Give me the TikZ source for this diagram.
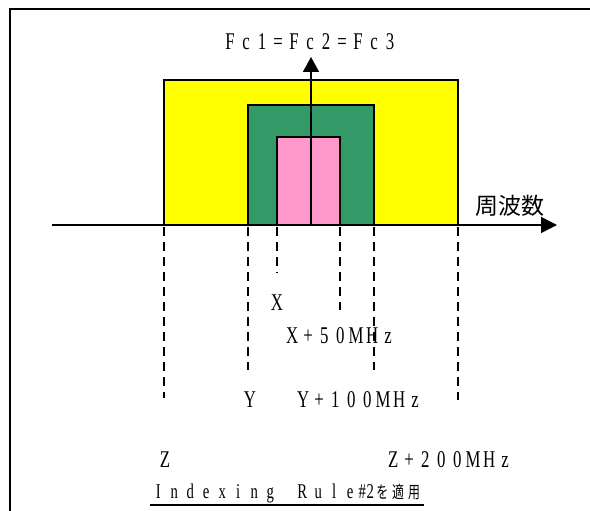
\documentclass[tikz,border=0pt]{standalone}
\usepackage{graphicx}
\usepackage{fontspec}
\setmainfont{Liberation Serif}
\newfontfamily\cjk{Noto Sans CJK JP}
\usetikzlibrary{arrows.meta}
\makeatletter
\newcommand\fwcell[1]{\makebox[16pt]{\scalebox{0.7}[1]{#1}}}
\newcommand\fwhalf[1]{\makebox[8pt]{\scalebox{0.7}[1]{#1}}}
\newcommand\fwseq[1]{\@tfor\fw@ch:=#1\do{\fwcell{\fw@ch}}}
\makeatother
\definecolor{band1}{RGB}{255,255,0}
\definecolor{band2}{RGB}{51,153,102}
\definecolor{band3}{RGB}{255,153,204}
\begin{document}
\begin{tikzpicture}[x=1pt,y=-1pt,
  box/.style={draw=black,line width=1.5pt},
  guide/.style={draw=black,line width=1.5pt,dash pattern=on 9pt off 6pt},
  axisline/.style={draw=black,line width=1.5pt},
  lbl/.style={inner sep=0pt,font=\fontsize{24}{26}\selectfont},
  ]
\useasboundingbox (0,0) rectangle (590,511);
% frame
\coordinate (fbl) at (10,511);
\coordinate (ftl) at (10,9);
\coordinate (ftr) at (590,9);
\draw[line width=1.6pt] (fbl) -- (ftl) -- (ftr);
% bands
\draw[box,fill=band1] (164,80) rectangle (458,225);
\draw[box,fill=band2] (248,105) rectangle (374,225);
\draw[box,fill=band3] (277,137) rectangle (340,225);
% axes
\coordinate (a0) at (52,225);
\coordinate (a1) at (557,225);
\draw[axisline,-{Triangle[length=16pt,width=16pt]}] (a0) -- (a1);
\coordinate (c0) at (311,225);
\coordinate (c1) at (311,57);
\draw[axisline,-{Triangle[length=15pt,width=16pt]}] (c0) -- (c1);
% guides
\coordinate (g1a) at (164,227); \coordinate (g1b) at (164,398);
\coordinate (g2a) at (248,227); \coordinate (g2b) at (248,370);
\coordinate (g3a) at (277,227); \coordinate (g3b) at (277,273);
\coordinate (g4a) at (340,227); \coordinate (g4b) at (340,310);
\coordinate (g5a) at (374,227); \coordinate (g5b) at (374,370);
\coordinate (g6a) at (458,227); \coordinate (g6b) at (458,400);
\draw[guide] (g1a) -- (g1b);
\draw[guide] (g2a) -- (g2b);
\draw[guide] (g3a) -- (g3b);
\draw[guide] (g4a) -- (g4b);
\draw[guide] (g5a) -- (g5b);
\draw[guide] (g6a) -- (g6b);
% labels
\node[lbl] (fc) at (310,42) {\fwseq{Fc1=Fc2=Fc3}};
\node[inner sep=0pt,font=\cjk\fontsize{23}{25}\selectfont] (freq) at (510,206) {周波数};
\node[lbl] (x) at (277,303) {\fwcell{X}};
\node[lbl,anchor=west] (x50) at (284,336) {\fwseq{X+50MHz}};
\node[lbl] (y) at (250,400) {\fwcell{Y}};
\node[lbl,anchor=west] (y100) at (295,400) {\fwseq{Y+100MHz}};
\node[lbl] (z) at (165,460) {\fwcell{Z}};
\node[lbl,anchor=west] (z200) at (385,460) {\fwseq{Z+200MHz}};
\node[lbl,anchor=west,font=\fontsize{21}{23}\selectfont] (rule) at (150,493)
  {\fwseq{Indexing}\fwcell{}\fwseq{Rule}\fwhalf{\#}\fwhalf{2}{\cjk\fontsize{17}{19}\selectfont\fwseq{を適用}}};
\coordinate (u0) at (150,505);
\coordinate (u1) at (424,505);
\draw[line width=1.5pt] (u0) -- (u1);
\end{tikzpicture}
\end{document}
